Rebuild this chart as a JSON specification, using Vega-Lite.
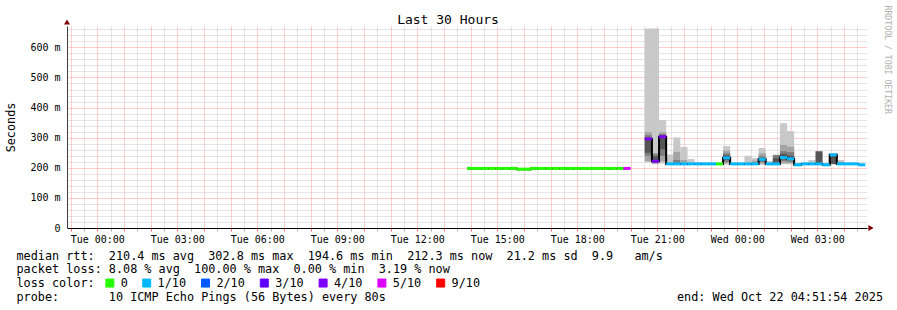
{
  "$schema": "https://vega.github.io/schema/vega-lite/v6.json",
  "autosize": "none",
  "padding": {"left": 67, "top": 26, "right": 30, "bottom": 82},
  "width": 800,
  "height": 202,
  "background": "white",
  "config": {"view": {"stroke": null}, "font": "DejaVu Sans Mono"},
  "datasets": {
    "smoke": [
      {"t": "2025-10-21T20:32:00Z", "t2": "2025-10-21T20:48:00Z", "lo": 0.218, "hi": 0.663, "s": 1},
      {"t": "2025-10-21T20:32:00Z", "t2": "2025-10-21T20:48:00Z", "lo": 0.222, "hi": 0.318, "s": 2},
      {"t": "2025-10-21T20:32:00Z", "t2": "2025-10-21T20:48:00Z", "lo": 0.240, "hi": 0.308, "s": 3},
      {"t": "2025-10-21T20:32:00Z", "t2": "2025-10-21T20:48:00Z", "lo": 0.250, "hi": 0.300, "s": 4},
      {"t": "2025-10-21T20:48:00Z", "t2": "2025-10-21T21:04:00Z", "lo": 0.212, "hi": 0.663, "s": 1},
      {"t": "2025-10-21T20:48:00Z", "t2": "2025-10-21T21:04:00Z", "lo": 0.214, "hi": 0.249, "s": 2},
      {"t": "2025-10-21T20:48:00Z", "t2": "2025-10-21T21:04:00Z", "lo": 0.218, "hi": 0.245, "s": 3},
      {"t": "2025-10-21T20:48:00Z", "t2": "2025-10-21T21:04:00Z", "lo": 0.222, "hi": 0.238, "s": 4},
      {"t": "2025-10-21T21:04:00Z", "t2": "2025-10-21T21:20:00Z", "lo": 0.214, "hi": 0.358, "s": 1},
      {"t": "2025-10-21T21:04:00Z", "t2": "2025-10-21T21:20:00Z", "lo": 0.222, "hi": 0.318, "s": 2},
      {"t": "2025-10-21T21:04:00Z", "t2": "2025-10-21T21:20:00Z", "lo": 0.240, "hi": 0.312, "s": 3},
      {"t": "2025-10-21T21:04:00Z", "t2": "2025-10-21T21:20:00Z", "lo": 0.262, "hi": 0.306, "s": 4},
      {"t": "2025-10-21T21:20:00Z", "t2": "2025-10-21T21:36:00Z", "lo": 0.211, "hi": 0.244, "s": 1},
      {"t": "2025-10-21T21:36:00Z", "t2": "2025-10-21T21:52:00Z", "lo": 0.211, "hi": 0.301, "s": 1},
      {"t": "2025-10-21T21:36:00Z", "t2": "2025-10-21T21:52:00Z", "lo": 0.212, "hi": 0.253, "s": 2},
      {"t": "2025-10-21T21:36:00Z", "t2": "2025-10-21T21:52:00Z", "lo": 0.212, "hi": 0.226, "s": 3},
      {"t": "2025-10-21T21:52:00Z", "t2": "2025-10-21T22:08:00Z", "lo": 0.211, "hi": 0.269, "s": 1},
      {"t": "2025-10-21T21:52:00Z", "t2": "2025-10-21T22:08:00Z", "lo": 0.212, "hi": 0.226, "s": 2},
      {"t": "2025-10-21T22:08:00Z", "t2": "2025-10-21T22:24:00Z", "lo": 0.211, "hi": 0.229, "s": 1},
      {"t": "2025-10-21T22:24:00Z", "t2": "2025-10-21T22:40:00Z", "lo": 0.211, "hi": 0.219, "s": 1},
      {"t": "2025-10-21T23:28:00Z", "t2": "2025-10-21T23:44:00Z", "lo": 0.211, "hi": 0.272, "s": 1},
      {"t": "2025-10-21T23:28:00Z", "t2": "2025-10-21T23:44:00Z", "lo": 0.215, "hi": 0.257, "s": 2},
      {"t": "2025-10-21T23:28:00Z", "t2": "2025-10-21T23:44:00Z", "lo": 0.220, "hi": 0.248, "s": 3},
      {"t": "2025-10-21T23:28:00Z", "t2": "2025-10-21T23:44:00Z", "lo": 0.226, "hi": 0.241, "s": 4},
      {"t": "2025-10-22T00:16:00Z", "t2": "2025-10-22T00:32:00Z", "lo": 0.212, "hi": 0.240, "s": 1},
      {"t": "2025-10-22T00:32:00Z", "t2": "2025-10-22T00:48:00Z", "lo": 0.212, "hi": 0.232, "s": 1},
      {"t": "2025-10-22T00:32:00Z", "t2": "2025-10-22T00:48:00Z", "lo": 0.212, "hi": 0.224, "s": 2},
      {"t": "2025-10-22T00:48:00Z", "t2": "2025-10-22T01:04:00Z", "lo": 0.210, "hi": 0.266, "s": 1},
      {"t": "2025-10-22T00:48:00Z", "t2": "2025-10-22T01:04:00Z", "lo": 0.214, "hi": 0.248, "s": 2},
      {"t": "2025-10-22T00:48:00Z", "t2": "2025-10-22T01:04:00Z", "lo": 0.218, "hi": 0.238, "s": 3},
      {"t": "2025-10-22T01:04:00Z", "t2": "2025-10-22T01:20:00Z", "lo": 0.212, "hi": 0.222, "s": 1},
      {"t": "2025-10-22T01:20:00Z", "t2": "2025-10-22T01:36:00Z", "lo": 0.212, "hi": 0.243, "s": 3},
      {"t": "2025-10-22T01:20:00Z", "t2": "2025-10-22T01:36:00Z", "lo": 0.214, "hi": 0.232, "s": 4},
      {"t": "2025-10-22T01:36:00Z", "t2": "2025-10-22T01:52:00Z", "lo": 0.212, "hi": 0.348, "s": 1},
      {"t": "2025-10-22T01:36:00Z", "t2": "2025-10-22T01:52:00Z", "lo": 0.215, "hi": 0.276, "s": 2},
      {"t": "2025-10-22T01:36:00Z", "t2": "2025-10-22T01:52:00Z", "lo": 0.222, "hi": 0.255, "s": 3},
      {"t": "2025-10-22T01:36:00Z", "t2": "2025-10-22T01:52:00Z", "lo": 0.228, "hi": 0.246, "s": 4},
      {"t": "2025-10-22T01:52:00Z", "t2": "2025-10-22T02:08:00Z", "lo": 0.212, "hi": 0.322, "s": 1},
      {"t": "2025-10-22T01:52:00Z", "t2": "2025-10-22T02:08:00Z", "lo": 0.215, "hi": 0.270, "s": 2},
      {"t": "2025-10-22T01:52:00Z", "t2": "2025-10-22T02:08:00Z", "lo": 0.220, "hi": 0.252, "s": 3},
      {"t": "2025-10-22T01:52:00Z", "t2": "2025-10-22T02:08:00Z", "lo": 0.226, "hi": 0.240, "s": 4},
      {"t": "2025-10-22T02:40:00Z", "t2": "2025-10-22T02:56:00Z", "lo": 0.212, "hi": 0.226, "s": 1},
      {"t": "2025-10-22T02:56:00Z", "t2": "2025-10-22T03:12:00Z", "lo": 0.211, "hi": 0.255, "s": 4},
      {"t": "2025-10-22T03:28:00Z", "t2": "2025-10-22T03:44:00Z", "lo": 0.212, "hi": 0.243, "s": 4},
      {"t": "2025-10-22T03:44:00Z", "t2": "2025-10-22T04:00:00Z", "lo": 0.212, "hi": 0.226, "s": 1},
      {"t": "2025-10-22T03:44:00Z", "t2": "2025-10-22T04:00:00Z", "lo": 0.212, "hi": 0.220, "s": 2}
    ],
    "median": [
      {"t": "2025-10-21T13:52:00Z", "t2": "2025-10-21T14:08:00Z", "m": 0.198, "loss": "0", "run": 1},
      {"t": "2025-10-21T14:08:00Z", "t2": "2025-10-21T14:24:00Z", "m": 0.198, "loss": "0", "run": 1},
      {"t": "2025-10-21T14:24:00Z", "t2": "2025-10-21T14:40:00Z", "m": 0.198, "loss": "0", "run": 1},
      {"t": "2025-10-21T14:40:00Z", "t2": "2025-10-21T14:56:00Z", "m": 0.198, "loss": "0", "run": 1},
      {"t": "2025-10-21T14:56:00Z", "t2": "2025-10-21T15:12:00Z", "m": 0.198, "loss": "0", "run": 1},
      {"t": "2025-10-21T15:12:00Z", "t2": "2025-10-21T15:28:00Z", "m": 0.198, "loss": "0", "run": 1},
      {"t": "2025-10-21T15:28:00Z", "t2": "2025-10-21T15:44:00Z", "m": 0.198, "loss": "0", "run": 1},
      {"t": "2025-10-21T15:44:00Z", "t2": "2025-10-21T16:00:00Z", "m": 0.1955, "loss": "0", "run": 1},
      {"t": "2025-10-21T16:00:00Z", "t2": "2025-10-21T16:16:00Z", "m": 0.1955, "loss": "0", "run": 1},
      {"t": "2025-10-21T16:16:00Z", "t2": "2025-10-21T16:32:00Z", "m": 0.198, "loss": "0", "run": 1},
      {"t": "2025-10-21T16:32:00Z", "t2": "2025-10-21T16:48:00Z", "m": 0.198, "loss": "0", "run": 1},
      {"t": "2025-10-21T16:48:00Z", "t2": "2025-10-21T17:04:00Z", "m": 0.198, "loss": "0", "run": 1},
      {"t": "2025-10-21T17:04:00Z", "t2": "2025-10-21T17:20:00Z", "m": 0.198, "loss": "0", "run": 1},
      {"t": "2025-10-21T17:20:00Z", "t2": "2025-10-21T17:36:00Z", "m": 0.198, "loss": "0", "run": 1},
      {"t": "2025-10-21T17:36:00Z", "t2": "2025-10-21T17:52:00Z", "m": 0.198, "loss": "0", "run": 1},
      {"t": "2025-10-21T17:52:00Z", "t2": "2025-10-21T18:08:00Z", "m": 0.198, "loss": "0", "run": 1},
      {"t": "2025-10-21T18:08:00Z", "t2": "2025-10-21T18:24:00Z", "m": 0.198, "loss": "0", "run": 1},
      {"t": "2025-10-21T18:24:00Z", "t2": "2025-10-21T18:40:00Z", "m": 0.198, "loss": "0", "run": 1},
      {"t": "2025-10-21T18:40:00Z", "t2": "2025-10-21T18:56:00Z", "m": 0.198, "loss": "0", "run": 1},
      {"t": "2025-10-21T18:56:00Z", "t2": "2025-10-21T19:12:00Z", "m": 0.198, "loss": "0", "run": 1},
      {"t": "2025-10-21T19:12:00Z", "t2": "2025-10-21T19:28:00Z", "m": 0.198, "loss": "0", "run": 1},
      {"t": "2025-10-21T19:28:00Z", "t2": "2025-10-21T19:44:00Z", "m": 0.198, "loss": "0", "run": 1},
      {"t": "2025-10-21T19:44:00Z", "t2": "2025-10-21T20:00:00Z", "m": 0.198, "loss": "5/10", "run": 1},
      {"t": "2025-10-21T20:32:00Z", "t2": "2025-10-21T20:48:00Z", "m": 0.296, "loss": "4/10", "run": 2},
      {"t": "2025-10-21T20:48:00Z", "t2": "2025-10-21T21:04:00Z", "m": 0.222, "loss": "4/10", "run": 2},
      {"t": "2025-10-21T21:04:00Z", "t2": "2025-10-21T21:20:00Z", "m": 0.303, "loss": "4/10", "run": 2},
      {"t": "2025-10-21T21:20:00Z", "t2": "2025-10-21T21:36:00Z", "m": 0.213, "loss": "1/10", "run": 2},
      {"t": "2025-10-21T21:36:00Z", "t2": "2025-10-21T21:52:00Z", "m": 0.213, "loss": "1/10", "run": 2},
      {"t": "2025-10-21T21:52:00Z", "t2": "2025-10-21T22:08:00Z", "m": 0.213, "loss": "1/10", "run": 2},
      {"t": "2025-10-21T22:08:00Z", "t2": "2025-10-21T22:24:00Z", "m": 0.213, "loss": "1/10", "run": 2},
      {"t": "2025-10-21T22:24:00Z", "t2": "2025-10-21T22:40:00Z", "m": 0.213, "loss": "1/10", "run": 2},
      {"t": "2025-10-21T22:40:00Z", "t2": "2025-10-21T22:56:00Z", "m": 0.213, "loss": "1/10", "run": 2},
      {"t": "2025-10-21T22:56:00Z", "t2": "2025-10-21T23:12:00Z", "m": 0.213, "loss": "1/10", "run": 2},
      {"t": "2025-10-21T23:12:00Z", "t2": "2025-10-21T23:28:00Z", "m": 0.213, "loss": "0", "run": 2},
      {"t": "2025-10-21T23:28:00Z", "t2": "2025-10-21T23:44:00Z", "m": 0.233, "loss": "1/10", "run": 2},
      {"t": "2025-10-21T23:44:00Z", "t2": "2025-10-22T00:00:00Z", "m": 0.213, "loss": "1/10", "run": 2},
      {"t": "2025-10-22T00:00:00Z", "t2": "2025-10-22T00:16:00Z", "m": 0.213, "loss": "1/10", "run": 2},
      {"t": "2025-10-22T00:16:00Z", "t2": "2025-10-22T00:32:00Z", "m": 0.213, "loss": "1/10", "run": 2},
      {"t": "2025-10-22T00:32:00Z", "t2": "2025-10-22T00:48:00Z", "m": 0.213, "loss": "1/10", "run": 2},
      {"t": "2025-10-22T00:48:00Z", "t2": "2025-10-22T01:04:00Z", "m": 0.228, "loss": "1/10", "run": 2},
      {"t": "2025-10-22T01:04:00Z", "t2": "2025-10-22T01:20:00Z", "m": 0.213, "loss": "1/10", "run": 2},
      {"t": "2025-10-22T01:20:00Z", "t2": "2025-10-22T01:36:00Z", "m": 0.213, "loss": "1/10", "run": 2},
      {"t": "2025-10-22T01:36:00Z", "t2": "2025-10-22T01:52:00Z", "m": 0.234, "loss": "1/10", "run": 2},
      {"t": "2025-10-22T01:52:00Z", "t2": "2025-10-22T02:08:00Z", "m": 0.230, "loss": "1/10", "run": 2},
      {"t": "2025-10-22T02:08:00Z", "t2": "2025-10-22T02:24:00Z", "m": 0.210, "loss": "1/10", "run": 2},
      {"t": "2025-10-22T02:24:00Z", "t2": "2025-10-22T02:40:00Z", "m": 0.213, "loss": "1/10", "run": 2},
      {"t": "2025-10-22T02:40:00Z", "t2": "2025-10-22T02:56:00Z", "m": 0.213, "loss": "1/10", "run": 2},
      {"t": "2025-10-22T02:56:00Z", "t2": "2025-10-22T03:12:00Z", "m": 0.213, "loss": "1/10", "run": 2},
      {"t": "2025-10-22T03:12:00Z", "t2": "2025-10-22T03:28:00Z", "m": 0.210, "loss": "1/10", "run": 2},
      {"t": "2025-10-22T03:28:00Z", "t2": "2025-10-22T03:44:00Z", "m": 0.243, "loss": "1/10", "run": 2},
      {"t": "2025-10-22T03:44:00Z", "t2": "2025-10-22T04:00:00Z", "m": 0.213, "loss": "1/10", "run": 2},
      {"t": "2025-10-22T04:00:00Z", "t2": "2025-10-22T04:16:00Z", "m": 0.213, "loss": "1/10", "run": 2},
      {"t": "2025-10-22T04:16:00Z", "t2": "2025-10-22T04:32:00Z", "m": 0.213, "loss": "1/10", "run": 2},
      {"t": "2025-10-22T04:32:00Z", "t2": "2025-10-22T04:48:00Z", "m": 0.210, "loss": "1/10", "run": 2}
    ]
  },
  "layer": [
    {
      "data": {"name": "smoke"},
      "mark": {"type": "rect"},
      "encoding": {
        "x": {
          "field": "t", "type": "temporal",
          "scale": {"type": "utc", "domain": [1761000714000, 1761108714000], "nice": false},
          "axis": {
            "orient": "bottom",
            "values": [1761001200000,1761003000000,1761004800000,1761006600000,1761008400000,1761010200000,1761012000000,1761013800000,1761015600000,1761017400000,1761019200000,1761021000000,1761022800000,1761024600000,1761026400000,1761028200000,1761030000000,1761031800000,1761033600000,1761035400000,1761037200000,1761039000000,1761040800000,1761042600000,1761044400000,1761046200000,1761048000000,1761049800000,1761051600000,1761053400000,1761055200000,1761057000000,1761058800000,1761060600000,1761062400000,1761064200000,1761066000000,1761067800000,1761069600000,1761071400000,1761073200000,1761075000000,1761076800000,1761078600000,1761080400000,1761082200000,1761084000000,1761085800000,1761087600000,1761089400000,1761091200000,1761093000000,1761094800000,1761096600000,1761098400000,1761100200000,1761102000000,1761103800000,1761105600000,1761107400000],
            "labelExpr": "utcminutes(datum.value) == 0 && utchours(datum.value) % 3 == 0 ? utcFormat(datum.value, '%a %H:%M') : ''",
            "labelFont": "DejaVu Sans Mono", "labelFontSize": 10, "labelColor": "#000000",
            "labelPadding": 3, "labelOverlap": false, "labelFlush": false,
            "tickSize": 3,
            "tickColor": {"condition": {"test": "utcminutes(datum.value) == 0", "value": "#ff6a6a"}, "value": "#b0b0b0"},
            "grid": true,
            "gridColor": {"condition": {"test": "utcminutes(datum.value) == 0", "value": "#ff9a9a"}, "value": "#c8c8c8"},
            "gridDash": [1, 1], "gridWidth": 1, "gridOpacity": 1,
            "domainColor": "#000000", "domainWidth": 1,
            "title": [
              "median rtt:\u00a0\u00a0210.4 ms avg\u00a0\u00a0302.8 ms max\u00a0\u00a0194.6 ms min\u00a0\u00a0212.3 ms now\u00a0\u00a021.2 ms sd\u00a0\u00a09.9\u00a0\u00a0\u00a0am/s",
              "packet loss: 8.08 % avg\u00a0\u00a0100.00 % max\u00a0\u00a00.00 % min\u00a0\u00a03.19 % now",
              "loss color:",
              "probe:\u00a0\u00a0\u00a0\u00a0\u00a0\u00a0\u00a010 ICMP Echo Pings (56 Bytes) every 80s\u00a0\u00a0\u00a0\u00a0\u00a0\u00a0\u00a0\u00a0\u00a0\u00a0\u00a0\u00a0\u00a0\u00a0\u00a0\u00a0\u00a0\u00a0\u00a0\u00a0\u00a0\u00a0\u00a0\u00a0\u00a0\u00a0\u00a0\u00a0\u00a0\u00a0\u00a0\u00a0\u00a0\u00a0\u00a0\u00a0\u00a0\u00a0\u00a0\u00a0\u00a0end: Wed Oct 22 04:51:54 2025"
            ],
            "titleX": -51, "titleY": 31, "titleAlign": "left", "titleAnchor": "start",
            "titleBaseline": "alphabetic", "titleFont": "DejaVu Sans Mono", "titleFontSize": 11.8,
            "titleFontWeight": "normal", "titleLineHeight": 13.9, "titleColor": "#000000", "titleLimit": 1200
          }
        },
        "x2": {"field": "t2"},
        "y": {
          "field": "lo", "type": "quantitative",
          "scale": {"domain": [0, 0.671], "nice": false, "zero": true},
          "axis": {
            "orient": "left",
            "values": [0,0.02,0.04,0.06,0.08,0.1,0.12,0.14,0.16,0.18,0.2,0.22,0.24,0.26,0.28,0.3,0.32,0.34,0.36,0.38,0.4,0.42,0.44,0.46,0.48,0.5,0.52,0.54,0.56,0.58,0.6,0.62,0.64,0.66],
            "labelExpr": "round(datum.value*1000) % 100 == 0 ? (datum.value == 0 ? '0' : format(round(datum.value*1000), 'd') + ' m') : ''",
            "labelFont": "DejaVu Sans Mono", "labelFontSize": 10, "labelColor": "#000000",
            "labelPadding": 7, "labelOverlap": false, "labelFlush": false,
            "ticks": false, "tickSize": 0,
            "grid": true,
            "gridColor": {"condition": {"test": "round(datum.value*1000) % 100 == 0", "value": "#ff9a9a"}, "value": "#c8c8c8"},
            "gridDash": [1, 1], "gridWidth": 1, "gridOpacity": 1,
            "domainColor": "#404040", "domainWidth": 1,
            "title": "Seconds", "titleX": -57, "titleY": 101, "titleAngle": 270,
            "titleAlign": "center", "titleBaseline": "middle",
            "titleFont": "DejaVu Sans Mono", "titleFontSize": 11.8, "titleFontWeight": "normal", "titleColor": "#000000"
          }
        },
        "y2": {"field": "hi"},
        "fill": {
          "field": "s", "type": "ordinal",
          "scale": {"domain": [1, 2, 3, 4], "range": ["#c8c8c8", "#a4a4a4", "#7c7c7c", "#555555"]},
          "legend": null
        }
      }
    },
    {
      "data": {"name": "median"},
      "mark": {"type": "line", "interpolate": "step-after", "color": "#000000", "strokeWidth": 2},
      "encoding": {
        "x": {
          "field": "t", "type": "temporal",
          "axis": {
            "orient": "top", "domain": false, "ticks": false, "labels": false, "grid": false,
            "title": "Last 30 Hours", "titleX": 380.5, "titleY": -7, "titleAlign": "center", "titleBaseline": "middle",
            "titleFont": "DejaVu Sans Mono", "titleFontSize": 13, "titleFontWeight": "normal", "titleColor": "#000000"
          }
        },
        "y": {
          "field": "m", "type": "quantitative",
          "axis": {
            "orient": "right", "domain": false, "ticks": false, "labels": false, "grid": false,
            "title": "RRDTOOL / TOBI OETIKER", "titleAngle": 90, "titleX": 19, "titleY": -21,
            "titleAlign": "left", "titleBaseline": "middle",
            "titleFont": "DejaVu Sans Mono", "titleFontSize": 8.2, "titleFontWeight": "normal", "titleColor": "#b0b0b0"
          }
        },
        "detail": {"field": "run", "type": "nominal"}
      }
    },
    {
      "data": {"name": "median"},
      "mark": {"type": "rule", "strokeWidth": 3, "strokeCap": "butt"},
      "encoding": {
        "x": {"field": "t", "type": "temporal", "axis": null},
        "x2": {"field": "t2"},
        "y": {"field": "m", "type": "quantitative", "axis": null},
        "color": {
          "field": "loss", "type": "nominal",
          "scale": {
            "domain": ["0", "1/10", "2/10", "3/10", "4/10", "5/10", "9/10"],
            "range": ["#26ff00", "#00b8ff", "#0059ff", "#5e00ff", "#7e00ff", "#dd00ff", "#ff0000"]
          },
          "legend": {
            "orient": "none", "legendX": 37, "legendY": 251, "direction": "horizontal",
            "title": null, "symbolType": "square", "symbolSize": 64, "symbolStrokeWidth": 1,
            "labelFont": "DejaVu Sans Mono", "labelFontSize": 11.8, "labelColor": "#000000",
            "labelOffset": 5, "columnPadding": 11.8, "padding": 0, "labelBaseline": "middle",
            "encode": {
              "symbols": {
                "update": {
                  "fill": {"scale": "color", "field": "value"},
                  "stroke": {"value": "#000000"},
                  "strokeWidth": {"value": 1},
                  "opacity": {"value": 1}
                }
              }
            }
          }
        }
      }
    },
    {
      "data": {"values": [{}]},
      "mark": {"type": "point", "shape": "triangle-up", "filled": true, "color": "#800000", "opacity": 1, "size": 36, "yOffset": -4},
      "encoding": {
        "x": {"datum": 1761000714000, "type": "temporal", "axis": null},
        "y": {"datum": 0.671, "type": "quantitative", "axis": null}
      }
    },
    {
      "data": {"values": [{}]},
      "mark": {"type": "point", "shape": "triangle-right", "filled": true, "color": "#800000", "opacity": 1, "size": 36, "xOffset": 4},
      "encoding": {
        "x": {"datum": 1761108714000, "type": "temporal", "axis": null},
        "y": {"datum": 0, "type": "quantitative", "axis": null}
      }
    }
  ],
  "resolve": {"axis": {"x": "independent", "y": "independent"}}
}
